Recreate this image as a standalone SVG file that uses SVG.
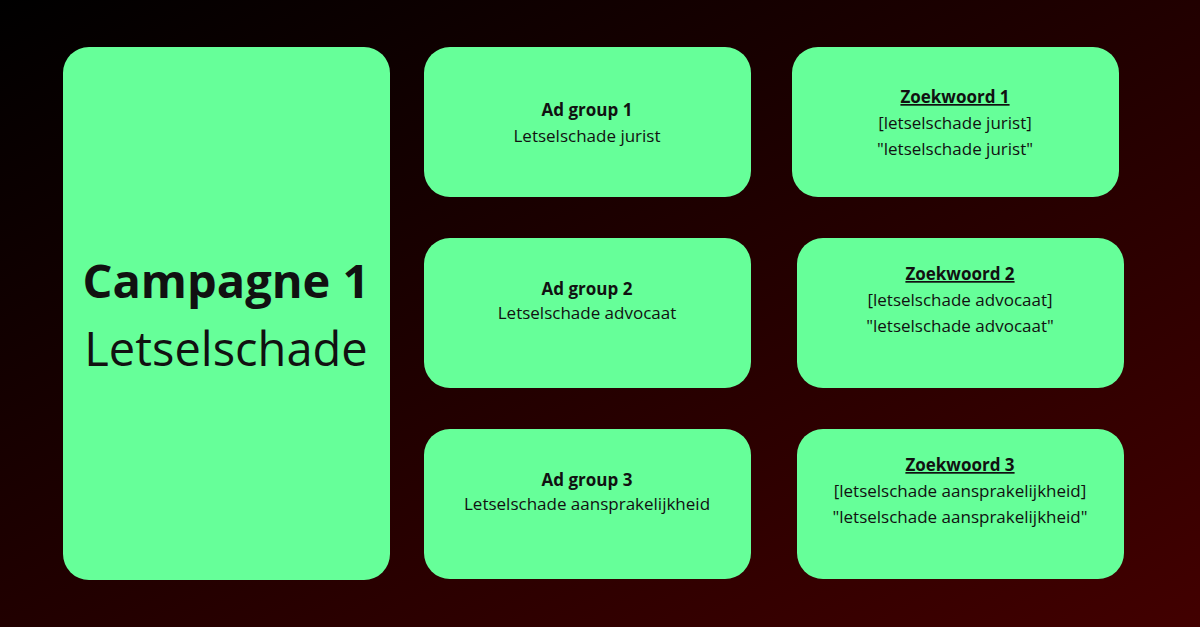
<svg xmlns="http://www.w3.org/2000/svg" width="1200" height="627" viewBox="0 0 1200 627">
<defs>
<linearGradient id="bg" x1="0" y1="0" x2="1" y2="1">
<stop offset="0" stop-color="#000000"/>
<stop offset="1" stop-color="#420000"/>
</linearGradient>
</defs>
<style>
.box{fill:#66ff99}
text{font-family:"Open Sans","Liberation Sans",sans-serif;fill:#111;text-anchor:middle;font-size:17px}
.b{font-weight:bold}
.u{text-decoration:underline}
</style>
<rect width="1200" height="627" fill="url(#bg)"/>
<g id="connectors"/>
<g id="campagne"><rect class="box" x="63" y="47" width="327" height="533" rx="26"/>
<text x="226" y="298" class="b" style="font-size:47px">Campagne 1</text>
<text x="226" y="366" style="font-size:47px">Letselschade</text></g>
<g id="ad1"><rect class="box" x="424" y="47" width="327" height="150" rx="26"/>
<text x="587" y="116" class="b">Ad group 1</text><text x="587" y="142">Letselschade jurist</text></g>
<g id="ad2"><rect class="box" x="424" y="238" width="327" height="150" rx="26"/>
<text x="587" y="295" class="b">Ad group 2</text><text x="587" y="319">Letselschade advocaat</text></g>
<g id="ad3"><rect class="box" x="424" y="429" width="327" height="150" rx="26"/>
<text x="587" y="486" class="b">Ad group 3</text><text x="587" y="510">Letselschade aansprakelijkheid</text></g>
<g id="zw1"><rect class="box" x="792" y="47" width="327" height="150" rx="26"/>
<text x="955" y="103" class="b u">Zoekwoord 1</text><text x="955" y="129">[letselschade jurist]</text><text x="955" y="155">"letselschade jurist"</text></g>
<g id="zw2"><rect class="box" x="797" y="238" width="327" height="150" rx="26"/>
<text x="960" y="280" class="b u">Zoekwoord 2</text><text x="960" y="306">[letselschade advocaat]</text><text x="960" y="332">"letselschade advocaat"</text></g>
<g id="zw3"><rect class="box" x="797" y="429" width="327" height="150" rx="26"/>
<text x="960" y="471" class="b u">Zoekwoord 3</text><text x="960" y="497">[letselschade aansprakelijkheid]</text><text x="960" y="523">"letselschade aansprakelijkheid"</text></g>
</svg>
